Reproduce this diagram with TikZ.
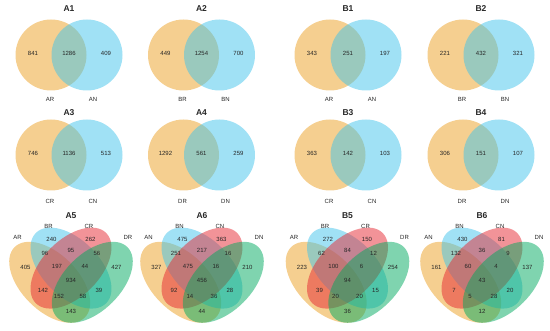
\documentclass[tikz,border=0pt]{standalone}
\usepackage{fontspec}
\setmainfont{Liberation Sans}
\definecolor{oc}{RGB}{235,159,33}
\definecolor{bc}{RGB}{65,195,235}
\definecolor{rc}{RGB}{230,40,50}
\definecolor{gc}{RGB}{0,170,95}
\newcommand\twopanel[9]{%
 \begin{scope}[shift={(#1,#2)}]
  \fill[setA] (-18,55) circle[radius=35.5];
  \fill[setB] (18,55) circle[radius=35.5];
  \node[ttl] (#9t) at (0,{8.5+#2/25}) {#3};
  \node[num] (#9a) at (-36,53.5) {#4};
  \node[num] (#9b) at (0,53.5) {#5};
  \node[num] (#9c) at (37,53.5) {#6};
  \node[num] (#9l) at (-19,{99+#2/50}) {#7};
  \node[num] (#9r) at (24,{99+#2/50}) {#8};
 \end{scope}}
\newcommand\fourpanel[8]{% cx, prefix, title, l1..l4, values
 \begin{scope}[shift={(#1,0)}]
  \fill[setA, rotate around={135:(-21.3,282.3)}] (-21.3,282.3) ellipse [x radius=49.7, y radius=28.4];
  \fill[setB, rotate around={135:(0,268.1)}] (0,268.1) ellipse [x radius=49.7, y radius=28.4];
  \fill[setC, rotate around={45:(0,268.1)}] (0,268.1) ellipse [x radius=49.7, y radius=28.4];
  \fill[setD, rotate around={45:(21.3,282.3)}] (21.3,282.3) ellipse [x radius=49.7, y radius=28.4];
  \node[ttl] (#2t) at (0,216) {#3};
  \node[num] (#2la) at (-53.5,237) {#4};
  \node[num] (#2lb) at (-22.5,226) {#5};
  \node[num] (#2lc) at (18,226) {#6};
  \node[num] (#2ld) at (57,237) {#7};
  \foreach \v [count=\i from 0] in {#8}{%
   \pgfmathsetmacro\px{{-19.5,19.5,-26,0,26,-45.5,-14,14,45.5,0,-28,28,-12,12,0}[\i]}%
   \pgfmathsetmacro\py{{239,239,253,250,253,267,266,266,267,280,290,290,296,296,311}[\i]}%
   \node[num] (#2n\i) at (\px,\py) {\v};}
 \end{scope}}
\begin{document}
\begin{tikzpicture}[x=1pt,y=-1pt,
 ttl/.style={font=\bfseries\fontsize{8.5}{9}\selectfont, inner sep=0, text=black!85},
 num/.style={font=\fontsize{6}{7}\selectfont, inner sep=0, text=black!85},
 setA/.style={fill=oc, fill opacity=.5},
 setB/.style={fill=bc, fill opacity=.5},
 setC/.style={fill=rc, fill opacity=.5},
 setD/.style={fill=gc, fill opacity=.5}]
\useasboundingbox (0,0) rectangle (550,331);
\twopanel{69}{0}{A1}{841}{1286}{409}{AR}{AN}{pA1}
\twopanel{201.5}{0}{A2}{449}{1254}{700}{BR}{BN}{pA2}
\twopanel{348}{0}{B1}{343}{251}{197}{AR}{AN}{pB1}
\twopanel{481}{0}{B2}{221}{432}{321}{BR}{BN}{pB2}
\twopanel{69}{100}{A3}{746}{1136}{513}{CR}{CN}{pA3}
\twopanel{201.5}{100}{A4}{1292}{561}{259}{DR}{DN}{pA4}
\twopanel{348}{100}{B3}{363}{142}{103}{CR}{CN}{pB3}
\twopanel{481}{100}{B4}{306}{151}{107}{DR}{DN}{pB4}
\fourpanel{71}{pA5}{A5}{AR}{BR}{CR}{DR}{240,262,96,95,56,405,197,44,427,934,142,39,152,58,143}
\fourpanel{202}{pA6}{A6}{AN}{BN}{CN}{DN}{475,363,251,217,16,327,475,16,210,456,92,28,14,36,44}
\fourpanel{347.5}{pB5}{B5}{AR}{BR}{CR}{DR}{272,150,62,84,12,223,100,6,254,94,39,15,20,20,36}
\fourpanel{482}{pB6}{B6}{AN}{BN}{CN}{DN}{430,81,132,36,9,161,60,4,137,43,7,20,5,28,12}
\end{tikzpicture}
\end{document}
